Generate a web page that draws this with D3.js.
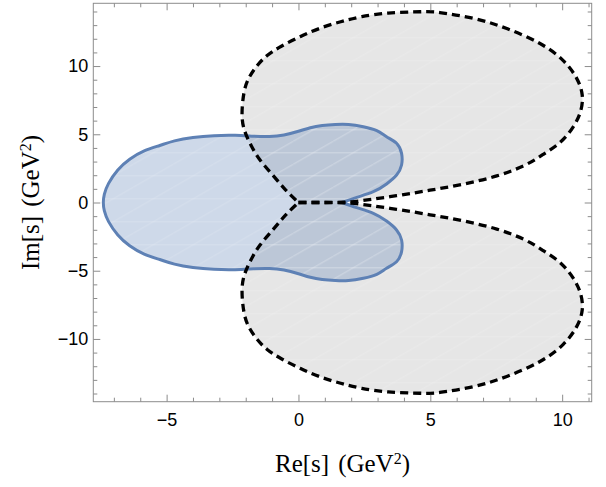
<!DOCTYPE html>
<html>
<head>
<meta charset="utf-8">
<script src="https://cdn.jsdelivr.net/npm/d3@7/dist/d3.min.js"></script>
<style>
  html, body { margin: 0; padding: 0; background: #fff; }
  svg { display: block; }
</style>
</head>
<body>
<svg id="chart" width="606" height="487"></svg>
<script>
// Region boundaries in the complex s-plane, as [Re s, Im s] in GeV^2.

// Blue region: starts and ends at the cusp on the real axis.
const blueBoundary = [
  [1.66, 0], [2.21, 0.38], [2.84, 0.79], [3.34, 1.36], [3.72, 2.01], [3.91, 2.75],
  [3.91, 3.60], [3.72, 4.34], [3.34, 4.82], [2.97, 5.26], [2.46, 5.55], [1.90, 5.72],
  [1.40, 5.72], [0.90, 5.64], [0.45, 5.48], [0.0, 5.22], [-0.55, 4.95], [-1.10, 4.84],
  [-1.70, 4.86], [-2.40, 4.92], [-3.20, 4.90], [-4.00, 4.77], [-4.70, 4.52], [-5.26, 4.18],
  [-5.85, 3.78], [-6.40, 3.17], [-6.85, 2.38], [-7.20, 1.40], [-7.36, 0.62], [-7.40, 0],
  [-7.36, -0.62], [-7.20, -1.40], [-6.85, -2.38], [-6.40, -3.17], [-5.85, -3.78], [-5.26, -4.18],
  [-4.70, -4.52], [-4.00, -4.77], [-3.20, -4.90], [-2.40, -4.92], [-1.70, -4.86],
  [-1.10, -4.84], [-0.55, -4.95], [0.0, -5.22], [0.45, -5.48], [0.90, -5.64], [1.40, -5.72],
  [1.90, -5.72], [2.46, -5.55], [2.97, -5.26], [3.34, -4.82], [3.72, -4.34], [3.91, -3.60],
  [3.91, -2.75], [3.72, -2.01], [3.34, -1.36], [2.84, -0.79], [2.21, -0.38], [1.66, 0]
];

// Upper gray lobe: from the origin along the real axis, round, and back to the origin.
const upperLobe = [
  [0, 0], [0.85, 0], [1.66, 0.02], [2.46, 0.15], [3.72, 0.50], [4.99, 0.90], [6.25, 1.35],
  [7.52, 1.95], [8.60, 2.75], [9.30, 3.55], [9.92, 4.40], [10.42, 5.55], [10.70, 6.70],
  [10.76, 7.88], [10.55, 9.10], [10.04, 10.40], [9.16, 11.65], [7.90, 12.75], [6.63, 13.50],
  [5.36, 13.92], [4.61, 13.98], [3.40, 13.88], [2.40, 13.62], [1.60, 13.25], [0.80, 12.76],
  [0.06, 12.15], [-0.65, 11.45], [-1.20, 10.75], [-1.60, 9.95], [-1.90, 9.05], [-2.07, 8.00],
  [-2.14, 6.50], [-2.05, 5.30], [-1.80, 4.20], [-1.45, 3.10], [-0.95, 1.95], [-0.50, 0.95], [0, 0]
];

// Lower gray lobe.
const lowerLobe = [
  [0, 0], [0.85, 0], [1.66, -0.02], [2.46, -0.15], [3.72, -0.50], [4.99, -0.90], [6.25, -1.35],
  [7.52, -1.95], [8.60, -2.75], [9.30, -3.55], [9.92, -4.40], [10.42, -5.55], [10.70, -6.70],
  [10.76, -7.88], [10.55, -9.10], [10.04, -10.40], [9.16, -11.65], [7.90, -12.75], [6.63, -13.50],
  [5.36, -13.92], [4.61, -13.98], [3.40, -13.88], [2.40, -13.62], [1.60, -13.25], [0.80, -12.76],
  [0.06, -12.15], [-0.65, -11.45], [-1.20, -10.75], [-1.60, -9.95], [-1.90, -9.05], [-2.07, -8.00],
  [-2.14, -6.50], [-2.05, -5.30], [-1.80, -4.20], [-1.45, -3.10], [-0.95, -1.95], [-0.50, -0.95], [0, 0]
];

// Axis ticks
const xMajorTicks = [-5, 0, 5, 10];
const yMajorTicks = [-10, -5, 0, 5, 10];
const xMinorTicks = [-7, -6, -4, -3, -2, -1, 1, 2, 3, 4, 6, 7, 8, 9, 11];
const yMinorTicks = [-14, -13, -12, -11, -9, -8, -7, -6, -4, -3, -2, -1,
                     1, 2, 3, 4, 6, 7, 8, 9, 11, 12, 13, 14];
const xDomain = [-7.78, 11.12];
const yDomain = [-14.6, 14.6];

const margin = { top: 3.3, left: 93.3 };
const width = 498.4, height = 398.4;

const svg = d3.select("#chart");

// Faint mesh texture inside the filled regions
const defs = svg.append("defs");
const pat = defs.append("pattern")
  .attr("id", "mesh").attr("patternUnits", "userSpaceOnUse")
  .attr("width", 40).attr("height", 23);
pat.append("path")
  .attr("d", "M0,23 L40,0 M0,11.5 H40")
  .attr("stroke", "#fff").attr("stroke-opacity", 0.3).attr("stroke-width", 0.6)
  .attr("fill", "none");

const g = svg.append("g").attr("transform", `translate(${margin.left},${margin.top})`);

const x = d3.scaleLinear().domain(xDomain).range([0, width]);
const y = d3.scaleLinear().domain(yDomain).range([height, 0]);

const line = d3.line()
  .x(d => x(d[0]))
  .y(d => y(d[1]))
  .curve(d3.curveNatural);

const clip = g.append("clipPath").attr("id", "plot-clip");
clip.append("rect").attr("width", width).attr("height", height);
const plot = g.append("g").attr("clip-path", "url(#plot-clip)");

// Gray lobes
[upperLobe, lowerLobe].forEach(lobe => {
  plot.append("path")
    .attr("d", line(lobe) + "Z")
    .attr("fill", "#e6e6e6")
    .attr("stroke", "none");
});

// Blue region
plot.append("path")
  .attr("d", line(blueBoundary) + "Z")
  .attr("fill", "#5e81b5")
  .attr("fill-opacity", 0.3)
  .attr("stroke", "none");

// Mesh texture over the filled areas
[upperLobe, lowerLobe, blueBoundary].forEach(b => {
  plot.append("path")
    .attr("d", line(b) + "Z")
    .attr("fill", "url(#mesh)");
});

plot.append("path")
  .attr("d", line(blueBoundary))
  .attr("fill", "none")
  .attr("stroke", "#5e81b5")
  .attr("stroke-width", 3)
  .attr("stroke-linejoin", "round");

// Dashed lobe outlines
[upperLobe, lowerLobe].forEach(lobe => {
  plot.append("path")
    .attr("d", line(lobe))
    .attr("fill", "none")
    .attr("stroke", "#000")
    .attr("stroke-width", 3.3)
    .attr("stroke-dasharray", "8,5");
});

// Frame
const frameColor = "#8c8c8c";
g.append("rect")
  .attr("width", width).attr("height", height)
  .attr("fill", "none")
  .attr("stroke", frameColor)
  .attr("stroke-width", 1);

const minus = v => (v < 0 ? "\u2212" + Math.abs(v) : String(v));

function drawAxis(axisGen, scale, transform, major, minor, labelled) {
  const maj = g.append("g").attr("transform", transform)
    .call(axisGen(scale).tickValues(major).tickSize(-7).tickPadding(labelled ? 12 : 0)
      .tickFormat(labelled ? minus : () => ""));
  const min = g.append("g").attr("transform", transform)
    .call(axisGen(scale).tickValues(minor).tickSize(-4).tickFormat(() => ""));
  [maj, min].forEach(a => {
    a.select(".domain").remove();
    a.selectAll(".tick line").attr("stroke", frameColor).attr("stroke-width", 1);
    a.selectAll(".tick text")
      .attr("fill", "#000")
      .style("font-family", "'Liberation Sans', Arial, sans-serif")
      .style("font-size", "18px");
  });
  return maj;
}

drawAxis(d3.axisBottom, x, `translate(0,${height})`, xMajorTicks, xMinorTicks, true);
drawAxis(d3.axisTop, x, "translate(0,0)", xMajorTicks, xMinorTicks, false);
const yAx = drawAxis(d3.axisLeft, y, "translate(0,0)", yMajorTicks, yMinorTicks, true);
yAx.selectAll(".tick text").attr("x", -5);
drawAxis(d3.axisRight, y, `translate(${width},0)`, yMajorTicks, yMinorTicks, false);

// Axis titles
const serif = "'Liberation Serif', 'Times New Roman', serif";
function title(sel, main) {
  sel.style("font-family", serif).style("font-size", "25px").attr("fill", "#000")
    .attr("text-anchor", "middle");
  sel.append("tspan").text(main + "[s]");
  sel.append("tspan").attr("dx", 9).text("(GeV");
  sel.append("tspan").attr("baseline-shift", "super").style("font-size", "16px").text("2");
  sel.append("tspan").text(")");
}
svg.append("text").attr("x", margin.left + width / 2).attr("y", 471.5).call(title, "Re");
svg.append("text")
  .attr("transform", `translate(39,${margin.top + height / 2}) rotate(-90)`)
  .call(title, "Im");
</script>
</body>
</html>
